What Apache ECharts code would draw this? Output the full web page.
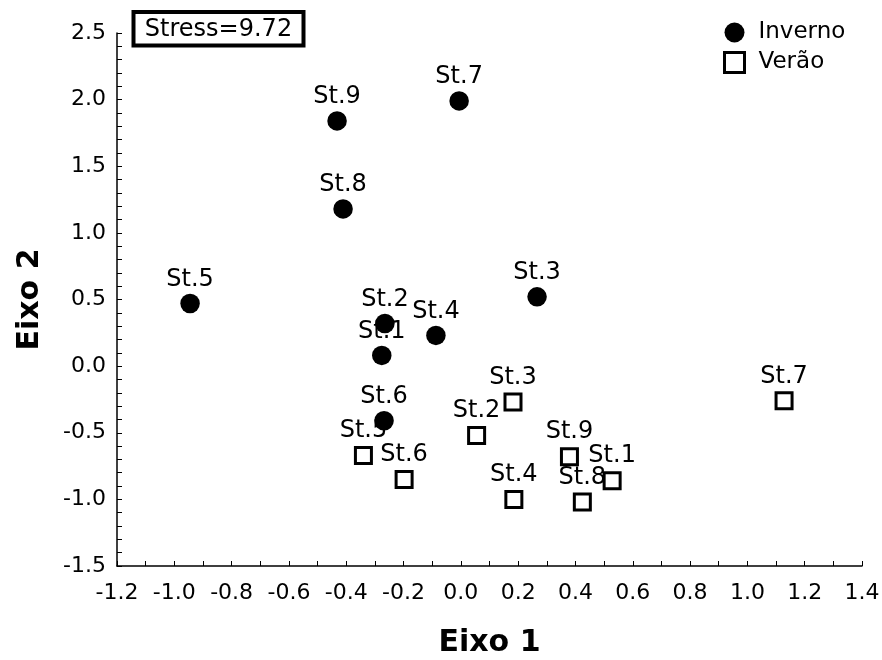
<!DOCTYPE html>
<html>
<head>
<meta charset="utf-8">
<script src="https://cdn.jsdelivr.net/npm/echarts@6/dist/echarts.min.js"></script>
<style>html,body{margin:0;padding:0;background:#fff}#c{width:882px;height:660px}</style>
</head>
<body>
<div id="c"></div>
<script>
var stations = ['St.1','St.2','St.3','St.4','St.5','St.6','St.7','St.8','St.9'];
var invernoX = [-0.276, -0.265, 0.266, -0.087, -0.945, -0.268, -0.006, -0.411, -0.432];
var invernoY = [0.08, 0.32, 0.52, 0.23, 0.47, -0.41, 1.99, 1.18, 1.84];
var veraoX = [0.528, 0.055, 0.182, 0.185, -0.34, -0.198, 1.128, 0.424, 0.379];
var veraoY = [-0.86, -0.52, -0.27, -1.00, -0.67, -0.85, -0.26, -1.02, -0.68];
var stressText = 'Stress=9.72';

var FONT = 'DejaVu Sans';
function pts(xs, ys) {
  return stations.map(function (s, i) { return { name: s, value: [xs[i], ys[i]] }; });
}
function fmt(v) { if (Math.abs(v) < 1e-9) v = 0; return (Math.round(v * 10) / 10).toFixed(1); }

var chart = echarts.init(document.getElementById('c'));
chart.setOption({
  animation: false,
  backgroundColor: '#fff',
  textStyle: { fontFamily: FONT, color: '#000' },
  grid: { left: 117, right: 20, top: 33, bottom: 94, containLabel: false, outerBoundsMode: 'none' },
  xAxis: {
    type: 'value', min: -1.2, max: 1.4, interval: 0.2,
    name: 'Eixo 1', nameLocation: 'middle', nameGap: 62,
    nameTextStyle: { fontFamily: FONT, fontSize: 30, fontWeight: 'bold', color: '#000' },
    axisLine: { show: true, onZero: false, lineStyle: { color: '#000', width: 1.5 } },
    axisTick: { show: true, inside: true, length: 5, lineStyle: { color: '#000', width: 1 } },
    minorTick: { show: true, splitNumber: 2, length: 5, lineStyle: { color: '#000', width: 1 } },
    axisLabel: { fontFamily: FONT, fontSize: 22, color: '#000', margin: 16, formatter: fmt },
    splitLine: { show: false }
  },
  yAxis: {
    type: 'value', min: -1.5, max: 2.5, interval: 0.5,
    name: 'Eixo 2', nameLocation: 'middle', nameGap: 72,
    nameTextStyle: { fontFamily: FONT, fontSize: 30, fontWeight: 'bold', color: '#000' },
    axisLine: { show: true, onZero: false, lineStyle: { color: '#000', width: 1.5 } },
    axisTick: { show: true, inside: true, length: 5, lineStyle: { color: '#000', width: 1 } },
    minorTick: { show: true, splitNumber: 5, length: 5, lineStyle: { color: '#000', width: 1 } },
    axisLabel: { fontFamily: FONT, fontSize: 22, color: '#000', margin: 11, formatter: fmt },
    splitLine: { show: false }
  },
  legend: {
    orient: 'vertical', left: 718, top: 16, itemWidth: 20, itemHeight: 20, itemGap: 7,
    textStyle: { fontFamily: FONT, fontSize: 23, color: '#000', padding: [0, 0, 0, 9] },
    data: [
      { name: 'Inverno', icon: 'circle', itemStyle: { color: '#000', opacity: 1 } },
      { name: 'Verão', icon: 'rect', itemStyle: { color: '#fff', borderColor: '#000', borderWidth: 3, opacity: 1 } }
    ]
  },
  graphic: [
    { type: 'rect', shape: { x: 133.5, y: 12, width: 170, height: 33.5 }, style: { fill: '#fff', stroke: '#000', lineWidth: 4 }, z: 100 },
    { type: 'text', x: 218.5, y: 29.5, style: { text: stressText, fontFamily: FONT, fontSize: 24, fill: '#000', align: 'center', verticalAlign: 'middle' }, z: 101 }
  ],
  series: [
    {
      name: 'Inverno', type: 'scatter', symbol: 'circle', symbolSize: 19.5,
      itemStyle: { color: '#000', opacity: 1 },
      label: { show: true, position: 'top', distance: 2, formatter: '{b}', fontFamily: FONT, fontSize: 24, color: '#000' },
      data: pts(invernoX, invernoY)
    },
    {
      name: 'Verão', type: 'scatter', symbol: 'rect', symbolSize: 16,
      itemStyle: { color: '#fff', borderColor: '#000', borderWidth: 3, opacity: 1 },
      label: { show: true, position: 'top', distance: 3, formatter: '{b}', fontFamily: FONT, fontSize: 24, color: '#000' },
      data: pts(veraoX, veraoY)
    }
  ]
});
</script>
</body>
</html>
